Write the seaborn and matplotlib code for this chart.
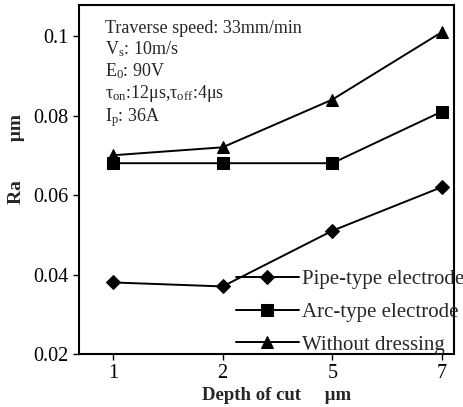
import matplotlib
matplotlib.use("Agg")
import matplotlib.pyplot as plt
import seaborn as sns
import pandas as pd

depth = ["1", "2", "5", "7"]
pipe = [0.038, 0.037, 0.051, 0.062]
arc = [0.068, 0.068, 0.068, 0.081]
without = [0.070, 0.072, 0.084, 0.101]
series_names = ["Pipe-type electrode", "Arc-type electrode", "Without dressing"]
y_ticks = [0.02, 0.04, 0.06, 0.08, 0.1]
y_tick_labels = ["0.02", "0.04", "0.06", "0.08", "0.1"]

sns.set_theme(style="ticks")
plt.rcParams["font.family"] = ["Liberation Serif", "DejaVu Serif"]
plt.rcParams["mathtext.fontset"] = "custom"
plt.rcParams["mathtext.rm"] = "Liberation Serif"
plt.rcParams["mathtext.it"] = "Liberation Serif"

df = pd.DataFrame({
    "depth": depth * 3,
    "Ra": pipe + arc + without,
    "series": [series_names[0]] * 4 + [series_names[1]] * 4 + [series_names[2]] * 4,
})

fig = plt.figure(figsize=(4.63, 4.07), dpi=100)
ax = fig.add_axes([79 / 463, 1 - 354 / 407, (454 - 79) / 463, (354 - 5) / 407])

markers = {series_names[0]: "D", series_names[1]: "s", series_names[2]: "^"}
sizes = {series_names[0]: 7, series_names[1]: 8, series_names[2]: 9}
for name in series_names:
    sub = df[df["series"] == name]
    sns.lineplot(data=sub, x="depth", y="Ra", ax=ax, color="black", lw=1.4,
                 marker=markers[name], markersize=sizes[name], markeredgecolor="black",
                 label=name, sort=False)

ax.set_xlim(-0.31, 3.11)
ax.set_ylim(0.02, 0.1078)
ax.set_yticks(y_ticks)
ax.set_yticklabels(y_tick_labels)
ax.tick_params(axis="both", labelsize=14.5, length=4, width=1, direction="out", colors="black")
for s in ax.spines.values():
    s.set_linewidth(1.5)
    s.set_color("black")

ax.set_xlabel("Depth of cut     \u03bcm", fontsize=13.5, fontweight="bold")
ax.xaxis.set_label_coords(0.528, -0.095)
ax.set_ylabel("Ra        \u03bcm", fontsize=14, fontweight="bold")
ax.yaxis.set_label_coords(-0.145, 0.559)

info = ("Traverse speed: 33mm/min\n"
        "V$_{\\mathrm{s}}$: 10m/s\n"
        "E$_{\\mathrm{0}}$: 90V\n"
        "\u03c4$_{\\mathrm{on}}$:12\u03bcs,\u03c4$_{\\mathrm{off}}$:4\u03bcs\n"
        "I$_{\\mathrm{p}}$: 36A")
ax.text(0.07, 0.957, info, transform=ax.transAxes, fontsize=13, va="top", ha="left",
        linespacing=1.15)

leg = ax.legend(loc="lower right", bbox_to_anchor=(1.06, -0.038), frameon=False,
                fontsize=15, handlelength=3.0, handletextpad=0.15, labelspacing=0.64,
                borderaxespad=0.2)

fig.savefig("out.png", dpi=100)
